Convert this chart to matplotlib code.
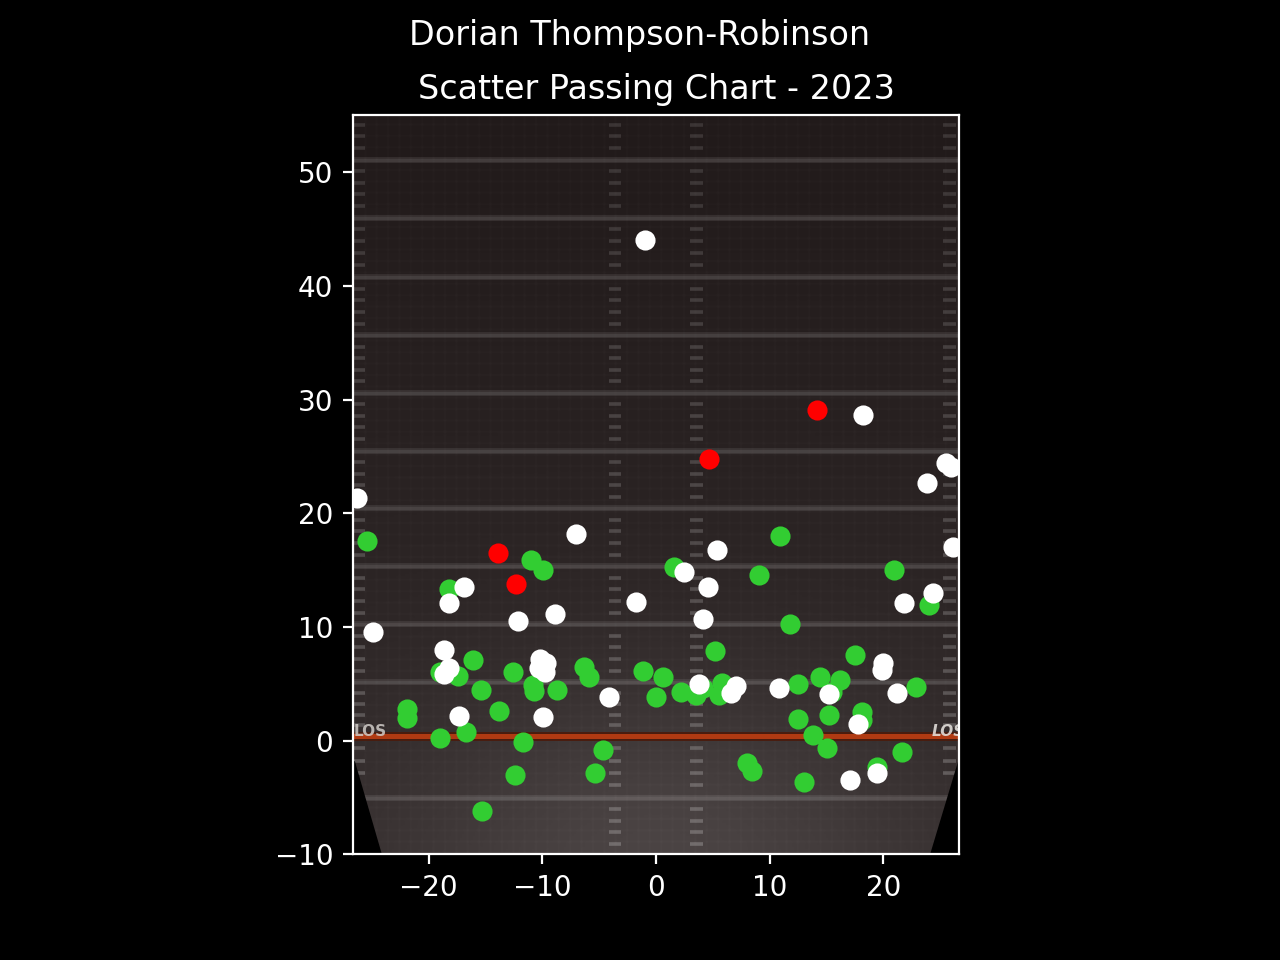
import numpy as np
import matplotlib
matplotlib.use("Agg")
import matplotlib.pyplot as plt

# pass end points, yards from the line of scrimmage
complete_x = [-25.4, -18.2, -19.0, -17.4, -16.1, -15.4, -21.9, -21.9, -19.0, -16.7, -13.8, -12.6, -10.8, -10.7,
              -8.7, -11.7, -12.4, -15.3, -11.0, -9.9, -6.3, -5.9, -4.7, -5.4, -1.1, 0.6, 0.0, 2.2, 3.5, 4.1,
              1.6, 5.2, 5.8, 5.5, 8.0, 8.4, 9.1, 10.9, 11.8, 12.5, 12.5, 14.4, 16.2, 15.5, 15.2, 17.5, 18.1,
              18.1, 13.8, 15.0, 13.0, 19.4, 21.6, 20.9, 22.9, 24.0]
complete_y = [17.6, 13.3, 6.0, 5.7, 7.1, 4.5, 2.8, 2.0, 0.2, 0.8, 2.6, 6.0, 4.9, 4.4,
              4.5, -0.1, -3.0, -6.2, 15.9, 15.0, 6.5, 5.6, -0.8, -2.8, 6.1, 5.6, 3.8, 4.3, 4.0, 4.6,
              15.3, 7.9, 5.1, 4.0, -2.0, -2.7, 14.6, 18.0, 10.3, 5.0, 1.9, 5.6, 5.3, 4.3, 2.3, 7.5, 2.5,
              1.8, 0.5, -0.6, -3.6, -2.3, -1.0, 15.0, 4.7, 11.9]

incomplete_x = [-1.0, 18.2, -26.3, 25.5, 25.9, 23.8, 26.1, -7.0, 5.4, 2.5, 4.6, -16.9, -18.2, -1.8, 24.4, 21.8,
                -8.9, -12.1, 4.1, -24.9, -18.6, -18.2, -18.6, -17.3, -10.2, -9.7, -10.3, -9.8, -9.9, -4.1,
                3.8, 7.0, 6.6, 10.8, 15.2, 20.0, 19.9, 21.2, 17.8, 17.1, 19.4]
incomplete_y = [44.0, 28.6, 21.3, 24.4, 24.1, 22.7, 17.0, 18.2, 16.8, 14.8, 13.5, 13.5, 12.1, 12.2, 13.0, 12.1,
                11.1, 10.5, 10.7, 9.6, 8.0, 6.4, 5.9, 2.2, 7.2, 6.8, 6.4, 6.0, 2.1, 3.8,
                5.0, 4.8, 4.2, 4.6, 4.1, 6.8, 6.2, 4.2, 1.5, -3.5, -2.8]

touchdown_x = [14.2, 4.7, -13.9, -12.3]
touchdown_y = [29.1, 24.8, 16.5, 13.8]

los_y = 0.4
yard_lines = [-5.0, 5.15, 10.25, 15.35, 20.45, 25.5, 30.6, 35.65, 40.75, 46.0, 51.1]
hash_columns = [-26.1, -3.6, 3.55, 25.8]
x_lim = (-26.67, 26.67)
y_lim = (-10, 55)


def field_image():
    """Dark turf that gets lighter towards the bottom middle."""
    xx, yy = np.meshgrid(np.linspace(*x_lim, 320), np.linspace(*y_lim, 390))
    t = (55 - yy) / 65
    shade = 28 + 16 * t
    glow = 26 * np.exp(-((xx / 24) ** 2 + ((yy + 10) / 16) ** 2))
    img = np.stack([shade + glow + 5, shade + glow - 2, shade + glow - 2], axis=2)
    # faint turf grid
    img[:, ::6] += 3
    img[::6, :] += 3
    return np.clip(img, 0, 255).astype(np.uint8)


plt.style.use("dark_background")
fig, ax = plt.subplots(figsize=(6.4, 4.8), dpi=200)

ax.imshow(field_image(), extent=[*x_lim, *y_lim], origin="lower", interpolation="bilinear", zorder=0)

for y in yard_lines:
    ax.hlines(y, *x_lim, color="white", alpha=0.08, lw=2.2, zorder=1)
    ax.hlines(y, *x_lim, color="white", alpha=0.08, lw=1.2, zorder=1)

# four short hash marks between each pair of lines
breaks = sorted(yard_lines + [los_y])
hash_rows = []
for low, high in zip(breaks[:-1], breaks[1:]):
    hash_rows += [low + (high - low) * k / 5 for k in range(1, 5)]
hash_rows += [breaks[0] - 1.02 * k for k in range(1, 5)]
hash_rows += [breaks[-1] + 1.02 * k for k in range(1, 4)]

for col in hash_columns:
    for y in hash_rows:
        if abs(col) > 20 and y < -3.2:
            continue
        fade = 0.11 + 0.11 * (55 - y) / 65
        ax.hlines(y, col - 0.55, col + 0.55, color="white", alpha=fade, lw=1.3, zorder=1)

# black corners outside the field view
ax.fill([x_lim[0], x_lim[0], -24.3], [-1.8, -10, -10], color="black", zorder=1)
ax.fill([x_lim[1], x_lim[1], 24.2], [-1.8, -10, -10], color="black", zorder=1)

# line of scrimmage
ax.hlines(los_y, *x_lim, color="#4a1c0e", lw=3.2, zorder=2)
ax.hlines(los_y, *x_lim, color="#b03a12", lw=1.8, zorder=2)
ax.text(-26.55, 0.85, "LOS", color="#d0ccc8", fontsize=5.5, fontweight="bold", ha="left", va="center", alpha=0.85,
        zorder=2, rotation=90, clip_on=True).set_rotation(0)
ax.text(24.2, 0.85, "LOS", color="#e0dcd8", fontsize=5.5, fontweight="bold", ha="left", va="center",
        style="italic", alpha=0.9, zorder=2, clip_on=True)

ax.scatter(complete_x, complete_y, color="limegreen", s=39, zorder=3)
ax.scatter(incomplete_x, incomplete_y, color="white", s=39, zorder=4)
ax.scatter(touchdown_x, touchdown_y, color="red", s=39, zorder=5)

ax.set_xlim(*x_lim)
ax.set_ylim(*y_lim)
ax.set_xticks([-20, -10, 0, 10, 20])
ax.set_yticks([-10, 0, 10, 20, 30, 40, 50])
ax.set_title("Scatter Passing Chart - 2023")
fig.suptitle("Dorian Thompson-Robinson")

fig.savefig("out.png", dpi=200, facecolor="black")
plt.close(fig)
